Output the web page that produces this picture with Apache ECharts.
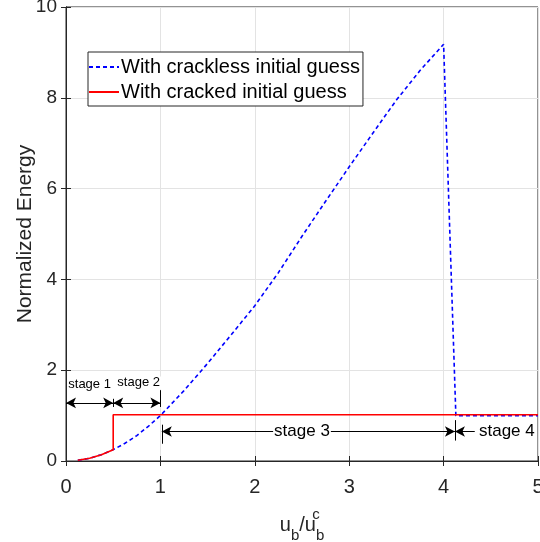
<!DOCTYPE html>
<html lang="en">
<head>
<meta charset="UTF-8">
<title>normalized energy</title>
<script src="https://cdn.jsdelivr.net/npm/echarts@6/dist/echarts.min.js"></script>
</head>
<body style="margin:0;background:#fff">
<div id="chart" style="width:540px;height:542px"></div>
<script>
// curve
var xCrackless = [0.125, 0.25, 0.375, 0.5, 0.625, 0.75, 0.875, 1.0, 1.25, 1.5, 1.75, 2.0, 2.25, 2.5, 2.75, 3.0, 3.25, 3.5, 3.75, 4.0, 4.13, 5.0];
var yCrackless = [0.016, 0.06, 0.14, 0.25, 0.39, 0.56, 0.77, 1.0, 1.55, 2.15, 2.78, 3.42, 4.15, 4.95, 5.72, 6.48, 7.22, 7.95, 8.6, 9.18, 1.0, 1.0];
var xCracked = [0.125, 0.25, 0.375, 0.5, 0.5, 5.0];
var yCracked = [0.016, 0.06, 0.14, 0.25, 1.02, 1.02];

// stage boundaries on the x axis
var stageBounds = [0, 0.5, 1.0, 1.015, 4.12, 4.33];
var stageNames = ['stage 1', 'stage 2', 'stage 3', 'stage 4'];

var pairs = function (xs, ys) {
    var res = [];
    for (var i = 0; i < xs.length; i++) res.push([xs[i], ys[i]]);
    return res;
};

var FONT = 'Liberation Sans';
var INK = '#262626';

var chart = echarts.init(document.getElementById('chart'));

var arrow2 = function (x0, x1, y) {
    return [{coord: [x0, y], symbol: 'arrow'}, {coord: [x1, y], symbol: 'arrow'}];
};
var tick = function (x, y0, y1) {
    return [{coord: [x, y0], symbol: 'none'}, {coord: [x, y1], symbol: 'none'}];
};

var b = stageBounds;
var annLines = [
    arrow2(b[0], b[1], 1.28),
    arrow2(b[1], b[2], 1.28),
    tick(b[1], 1.19, 1.37),
    tick(b[2], 1.19, 1.56),
    tick(b[3], 0.38, 0.8),
    tick(b[4], 0.45, 0.9),
    arrow2(b[3], b[4], 0.65),
    [{coord: [b[5], 0.65], symbol: 'none'}, {coord: [b[4], 0.65], symbol: 'arrow'}]
];

var annText = [
    {coord: [(b[0] + b[1]) / 2, 1.68], value: stageNames[0], size: 13},
    {coord: [(b[1] + b[2]) / 2 + 0.02, 1.72], value: stageNames[1], size: 13},
    {coord: [2.5, 0.65], value: stageNames[2], size: 17},
    {coord: [4.67, 0.66], value: stageNames[3], size: 17}
];

var option = {
    animation: false,
    grid: {left: 66, right: 2, top: 7, bottom: 81, show: true, borderColor: INK, borderWidth: 1,
        outerBoundsMode: 'none', containLabel: false},
    legend: {
        left: 88, top: 52, orient: 'vertical', itemWidth: 30, itemHeight: 10, itemGap: 5,
        borderColor: INK, borderWidth: 1, backgroundColor: '#fff', borderRadius: 0,
        padding: [5, 3, 4, 0],
        itemStyle: {opacity: 0},
        textStyle: {fontSize: 20, fontFamily: FONT, color: '#000', padding: [0, 0, 0, -3]},
        data: ['With crackless initial guess', 'With cracked initial guess']
    },
    xAxis: [{
        type: 'value', min: 0, max: 5, interval: 1,
        name: '{m|u}{s|b}{m|/u}{z|c}{s|b}',
        nameLocation: 'middle', nameGap: 46, nameMoveOverlap: false,
        nameTextStyle: {
            color: INK, fontFamily: FONT,
            rich: {
                m: {fontSize: 20, fontFamily: FONT, color: INK, lineHeight: 36, verticalAlign: 'middle'},
                s: {fontSize: 15, fontFamily: FONT, color: INK, lineHeight: 36, verticalAlign: 'bottom'},
                z: {fontSize: 15, fontFamily: FONT, color: INK, lineHeight: 36, verticalAlign: 'top', width: 0}
            }
        },
        axisLine: {show: true, lineStyle: {color: INK}},
        axisTick: {inside: true, length: 5, lineStyle: {color: INK}},
        axisLabel: {fontSize: 20, fontFamily: FONT, color: INK, margin: 16},
        splitLine: {show: true, lineStyle: {color: '#e3e3e3'}}
    }, {
        type: 'value', min: 0, max: 5, interval: 1, position: 'top',
        axisLine: {show: true, lineStyle: {color: INK}},
        axisTick: {inside: true, length: 5, lineStyle: {color: INK}},
        axisLabel: {show: false}, splitLine: {show: false}
    }],
    yAxis: [{
        type: 'value', min: 0, max: 10, interval: 2,
        name: 'Normalized Energy', nameLocation: 'middle', nameGap: 30, nameMoveOverlap: false,
        nameTextStyle: {fontSize: 21, fontFamily: FONT, color: INK},
        axisLine: {show: true, lineStyle: {color: INK}},
        axisTick: {inside: true, length: 5, lineStyle: {color: INK}},
        axisLabel: {fontSize: 19, fontFamily: FONT, color: INK, margin: 9},
        splitLine: {show: true, lineStyle: {color: '#e3e3e3'}}
    }, {
        type: 'value', min: 0, max: 10, interval: 2, position: 'right',
        axisLine: {show: true, lineStyle: {color: INK}},
        axisTick: {inside: true, length: 5, lineStyle: {color: INK}},
        axisLabel: {show: false}, splitLine: {show: false}
    }],
    series: [{
        name: 'With crackless initial guess', type: 'line', symbol: 'none',
        lineStyle: {color: '#0000ff', width: 1.6, type: [4, 3]},
        itemStyle: {color: '#0000ff'},
        data: pairs(xCrackless, yCrackless)
    }, {
        name: 'With cracked initial guess', type: 'line', symbol: 'none',
        lineStyle: {color: '#ff0000', width: 1.6},
        itemStyle: {color: '#ff0000'},
        data: pairs(xCracked, yCracked)
    }, {
        name: 'annotations', type: 'line', data: [],
        markLine: {
            silent: true, symbol: ['none', 'none'], symbolSize: [8, 10], precision: 4,
            lineStyle: {color: '#000', width: 1, type: 'solid'},
            label: {show: false},
            emphasis: {disabled: true},
            data: annLines
        },
        markPoint: {
            silent: true, symbol: 'circle', symbolSize: 0,
            data: annText.map(function (t) {
                return {coord: t.coord, label: {show: true, formatter: t.value, fontSize: t.size,
                    fontFamily: FONT, color: '#000', position: 'inside',
                    backgroundColor: '#fff', padding: [0, 1]}};
            })
        }
    }]
};

chart.setOption(option);
</script>
</body>
</html>
